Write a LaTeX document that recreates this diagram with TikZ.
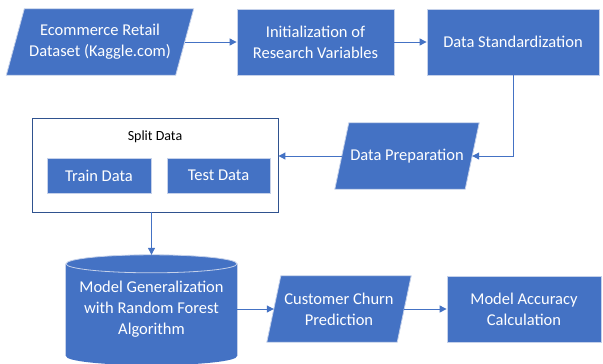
\documentclass[tikz,border=0pt]{standalone}
\usepackage{fontspec}
\setmainfont{Carlito}
\usetikzlibrary{arrows.meta,backgrounds,calc}
\definecolor{obl}{HTML}{4472C4}
\definecolor{oedge}{HTML}{C5D1EA}
\definecolor{odark}{HTML}{2F528F}
\tikzset{
  txt/.style={text=white, font=\fontsize{16.5bp}{21bp}\selectfont, align=center, inner sep=0pt},
  box/.style={txt, rectangle, fill=obl, draw=oedge, line width=0.8bp},
  paranode/.style={txt, rectangle, draw=none},
  shapeline/.style={fill=obl, draw=oedge, line width=0.8bp},
  conn/.style={draw=obl, line width=1bp, -{Triangle[length=7bp,width=7bp]}},
}
\newcommand\drawpara[2]{%
  \begin{pgfonlayer}{background}
    \draw[shapeline] ($(#1.north west)+(#2,0)$) -- ($(#1.north east)+(#2,0)$)
      -- ($(#1.south east)-(#2,0)$) -- ($(#1.south west)-(#2,0)$) -- cycle;
  \end{pgfonlayer}}
\begin{document}
\begin{tikzpicture}[x=1bp,y=-1bp]
\useasboundingbox (0,0) rectangle (603,363);
% top row
\node[paranode, minimum width=169bp, minimum height=66bp] (eco) at (100,42)
  {Ecommerce Retail\\Dataset (Kaggle.com)};
\drawpara{eco}{9}
\node[box, minimum width=157bp, minimum height=66bp] (init) at (315.5,42)
  {Initialization of\\Research Variables};
\node[box, minimum width=172bp, minimum height=66bp] (std) at (513,42)
  {Data Standardization};
% middle row
\node[paranode, minimum width=130bp, minimum height=66bp] (prep) at (407,156)
  {Data Preparation};
\drawpara{prep}{7}
\node[rectangle, fill=white, draw=odark, line width=0.9bp, minimum width=246bp,
  minimum height=94bp, inner sep=0pt] (split) at (155,165) {};
\node[font=\fontsize{14bp}{17bp}\selectfont, inner sep=0pt] (splitlbl) at (155,137) {Split Data};
\node[box, minimum width=104bp, minimum height=35bp] (train) at (99,175.5) {Train Data};
\node[box, minimum width=103bp, minimum height=35bp] (test) at (218.5,175.5) {Test Data};
% bottom row
\node[txt, rectangle, draw=none, minimum width=171bp, minimum height=108bp] (cyl) at (151.5,309)
  {Model Generalization\\with Random Forest\\Algorithm};
\begin{pgfonlayer}{background}
  \fill[obl] ($(cyl.north west)+(0,9)$) rectangle ($(cyl.south east)+(0,-7)$);
  \fill[obl] ($(cyl.south)+(0,-7)$) ellipse [x radius=85.5bp, y radius=9bp];
  \draw[oedge, line width=0.8bp] ($(cyl.north west)+(0,9)$) -- ($(cyl.south west)+(0,-7)$);
  \draw[oedge, line width=0.8bp] ($(cyl.north east)+(0,9)$) -- ($(cyl.south east)+(0,-7)$);
  \draw[shapeline] ($(cyl.north)+(0,9)$) ellipse [x radius=85.5bp, y radius=9bp];
\end{pgfonlayer}
\node[paranode, minimum width=130bp, minimum height=66bp] (churn) at (339,309)
  {Customer Churn\\Prediction};
\drawpara{churn}{7}
\node[box, minimum width=154bp, minimum height=66bp] (acc) at (524,309)
  {Model Accuracy\\Calculation};
% connectors
\draw[conn] (eco.east) -- (init.west);
\draw[conn] (init.east) -- (std.west);
\draw[conn] (std.south) |- (prep.east);
\draw[conn] (prep.west) -- (prep.west -| split.east);
\draw[conn] (split.south -| cyl.north) -- (cyl.north);
\draw[conn] (cyl.east) -- (churn.west);
\draw[conn] (churn.east) -- (acc.west);
\end{tikzpicture}
\end{document}
